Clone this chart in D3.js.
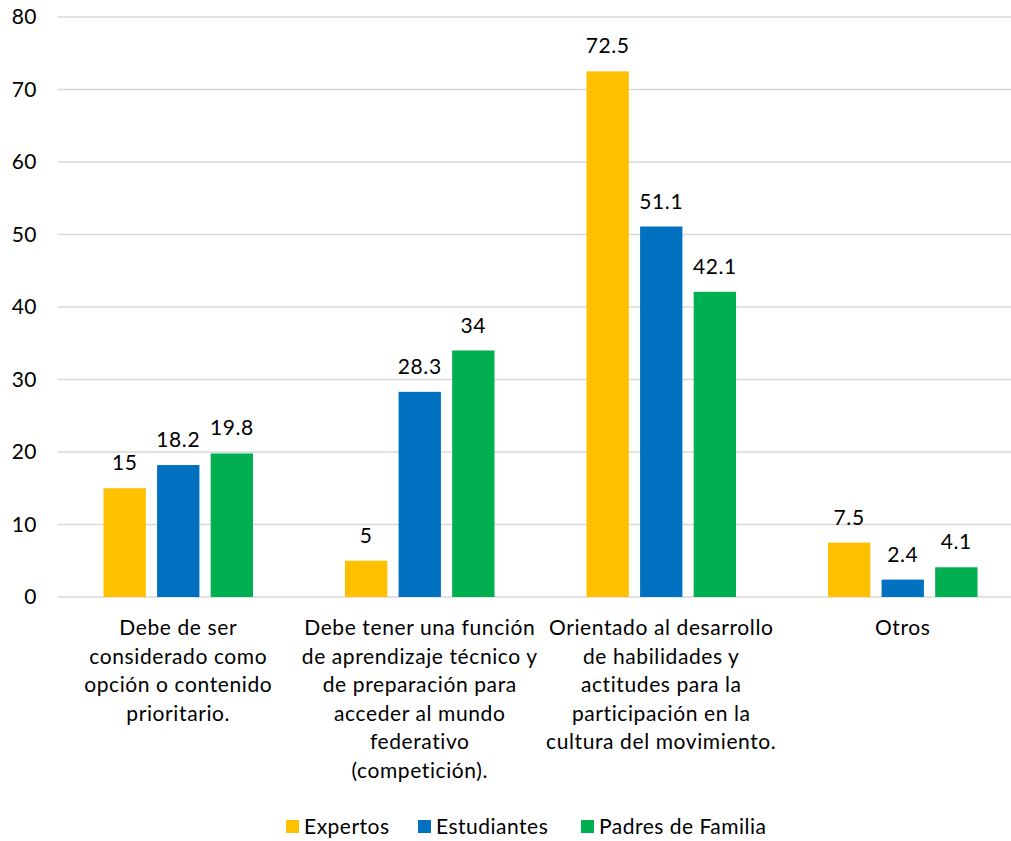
<!DOCTYPE html>
<html><head><meta charset="utf-8">
<script src="https://cdn.jsdelivr.net/npm/d3@7"></script>
<style>html,body{margin:0;padding:0;background:#fff;}svg{display:block;font-family:Lato,"Open Sans",sans-serif;}</style>
</head><body><svg id="c" width="1011" height="841"></svg>
<script>
const categories = [
  ["Debe de ser","considerado como","opción o contenido","prioritario."],
  ["Debe tener una función","de aprendizaje técnico y","de preparación para","acceder al mundo","federativo","(competición)."],
  ["Orientado al desarrollo","de habilidades y","actitudes para la","participación en la","cultura del movimiento."],
  ["Otros"]
];
const seriesNames = ["Expertos","Estudiantes","Padres de Familia"];
const expertos = [15, 5, 72.5, 7.5];
const estudiantes = [18.2, 28.3, 51.1, 2.4];
const padres = [19.8, 34, 42.1, 4.1];
const yTicks = [0,10,20,30,40,50,60,70,80];
const colors = ["#FFC000","#0070C0","#00B050"];

const series = [expertos, estudiantes, padres];
const svg = d3.select("#c");
const x0 = d3.scaleBand().domain(d3.range(categories.length)).range([57.5, 1023.5]).paddingInner(0).paddingOuter(0);
const x1 = d3.scaleBand().domain(d3.range(series.length)).range([46, x0.bandwidth()-46]).paddingInner(0.21).paddingOuter(0);
const y = d3.scaleLinear().domain([0,80]).range([597,17]);

// gridlines
svg.append("g").selectAll("line").data(yTicks).join("line")
  .attr("x1",57.5).attr("x2",1011).attr("y1",d=>y(d)).attr("y2",d=>y(d))
  .attr("stroke","#D9D9D9").attr("stroke-width",1.5);

// y axis labels
const ya = svg.append("g").attr("transform","translate(37,0)")
  .call(d3.axisLeft(y).tickValues(yTicks).tickSize(0).tickPadding(0));
ya.select(".domain").remove();
ya.selectAll("text").attr("font-size",21).attr("font-family","Lato, sans-serif").attr("fill","#000").attr("letter-spacing",0.5);

// bars
const g = svg.append("g");
categories.forEach((c,i)=>{
  series.forEach((s,j)=>{
    const bx = x0(i)+x1(j);
    g.append("rect").attr("x",bx).attr("y",y(s[i])).attr("width",x1.bandwidth())
      .attr("height",y(0)-y(s[i])).attr("fill",colors[j]);
    g.append("text").attr("x",bx+x1.bandwidth()/2).attr("y",y(s[i])-18)
      .attr("text-anchor","middle").attr("font-size",21).attr("letter-spacing",0.6).attr("fill","#000").text(s[i]);
  });
  const t = svg.append("text").attr("text-anchor","middle").attr("font-size",21).attr("letter-spacing",0.6).attr("fill","#000");
  c.forEach((line,k)=>{
    t.append("tspan").attr("x",x0(i)+x0.bandwidth()/2).attr("y",635+k*28.5).text(line);
  });
});

// legend
const legX = [286, 418, 581];
seriesNames.forEach((n,j)=>{
  svg.append("rect").attr("x",legX[j]).attr("y",820).attr("width",13).attr("height",13).attr("fill",colors[j]);
  svg.append("text").attr("x",legX[j]+18).attr("y",834).attr("font-size",21).attr("letter-spacing",0.5).attr("fill","#000").text(n);
});
</script></body></html>
